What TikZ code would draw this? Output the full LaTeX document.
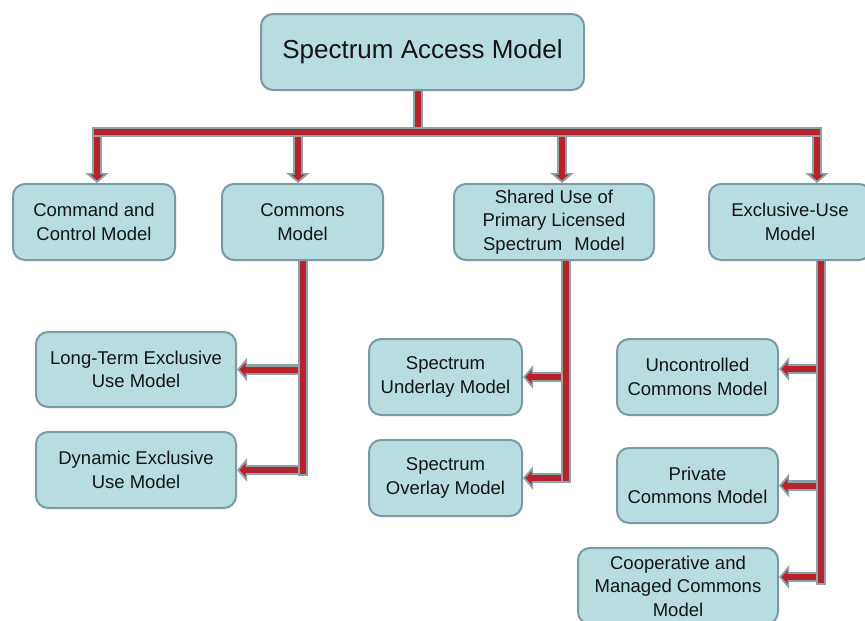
\documentclass[tikz,border=0pt]{standalone}
\usepackage{fontspec}
\setmainfont{Liberation Sans}
\usetikzlibrary{arrows.meta}
\definecolor{boxfill}{RGB}{184,221,224}
\definecolor{boxline}{RGB}{124,154,164}
\definecolor{conngrey}{RGB}{140,163,172}
\definecolor{connred}{RGB}{183,35,42}
\definecolor{txt}{RGB}{20,20,20}
\pgfdeclarelayer{bg}
\pgfsetlayers{bg,main}
\newcommand\connarrow[2]{%
  \draw[glowarrow] (#1) -- (#2);
  \draw[corearrow] (#1) -- (#2);}
\newcommand\connline[2]{%
  \draw[glow] (#1) -- (#2);
  \draw[core] (#1) -- (#2);}
\begin{document}
\begin{tikzpicture}[x=1pt,y=-1pt,
  box/.style={draw=boxline, line width=2pt, fill=boxfill, rounded corners=12pt,
    align=center, text=txt, font=\fontsize{18.5}{23.5}\selectfont, inner sep=0pt},
  glow/.style={draw=conngrey, line width=10.5pt, line cap=rect},
  core/.style={draw=connred, line width=6pt, line cap=rect},
  glowarrow/.style={draw=conngrey, line width=10.5pt,
    -{Triangle[width=23pt,length=10pt]}},
  corearrow/.style={draw=connred, line width=6pt, shorten >=2.5pt,
    -{Triangle[width=13pt,length=6pt]}}]
\useasboundingbox (0,0) rectangle (865,621);
\clip (0,0) rectangle (865,621);

\node[box, minimum width=323pt, minimum height=76pt,
  font=\fontsize{26}{30}\selectfont] (top) at (422.5,52) {Spectrum Access Model};
\node[box, minimum width=162pt, minimum height=76pt] (cmd) at (94,222)
  {Command and\\Control Model};
\node[box, minimum width=161pt, minimum height=76pt] (commons) at (302.5,222)
  {Commons\\Model};
\node[box, minimum width=200pt, minimum height=76pt] (shared) at (554,222)
  {Shared Use of\\Primary Licensed\\Spectrum\hspace{7pt} Model};
\node[box, minimum width=162pt, minimum height=76pt] (excl) at (790,222)
  {Exclusive-Use\\Model};
\node[box, minimum width=200pt, minimum height=75pt] (longterm) at (136,369.5)
  {Long-Term Exclusive\\Use Model};
\node[box, minimum width=200pt, minimum height=76pt] (dynamic) at (136,470)
  {Dynamic Exclusive\\Use Model};
\node[box, minimum width=153pt, minimum height=76pt] (underlay) at (445.5,377)
  {Spectrum\\Underlay Model};
\node[box, minimum width=153pt, minimum height=76pt] (overlay) at (445.5,478)
  {Spectrum\\Overlay Model};
\node[box, minimum width=161pt, minimum height=76pt] (uncontrolled) at (697.5,377)
  {Uncontrolled\\Commons Model};
\node[box, minimum width=161pt, minimum height=75pt] (private) at (697.5,485.5)
  {Private\\Commons Model};
\node[box, minimum width=200pt, minimum height=76pt] (coop) at (678,586)
  {Cooperative and\\Managed Commons\\Model};

\coordinate (s0) at (418,132);
\coordinate (b1) at (97,132);
\coordinate (b2) at (298,132);
\coordinate (b3) at (562,132);
\coordinate (b4) at (817,132);
\coordinate (v1) at (303,471);
\coordinate (v2) at (566,478);
\coordinate (v3) at (821,580);
\coordinate (a1) at (0,369);
\coordinate (a3) at (0,577);

\begin{pgfonlayer}{bg}
  % stem and down arrows
  \connline{top.south -| s0}{s0}
  \connarrow{b1}{b1 |- cmd.north}
  \connarrow{b2}{b2 |- commons.north}
  \connarrow{b3}{b3 |- shared.north}
  \connarrow{b4}{b4 |- excl.north}
  % bus
  \connline{b1}{b4}
  % commons branch
  \connarrow{v1 |- longterm.east}{longterm.east}
  \connarrow{v1 |- dynamic.east}{dynamic.east}
  \connline{commons.south -| v1}{v1}
  % shared branch
  \connarrow{v2 |- underlay.east}{underlay.east}
  \connarrow{v2 |- overlay.east}{overlay.east}
  \connline{shared.south -| v2}{v2}
  % exclusive branch
  \connarrow{v3 |- a1}{uncontrolled.east |- a1}
  \connarrow{v3 |- private.east}{private.east}
  \connarrow{v3 |- a3}{coop.east |- a3}
  \connline{excl.south -| v3}{v3}
\end{pgfonlayer}
\end{tikzpicture}
\end{document}
